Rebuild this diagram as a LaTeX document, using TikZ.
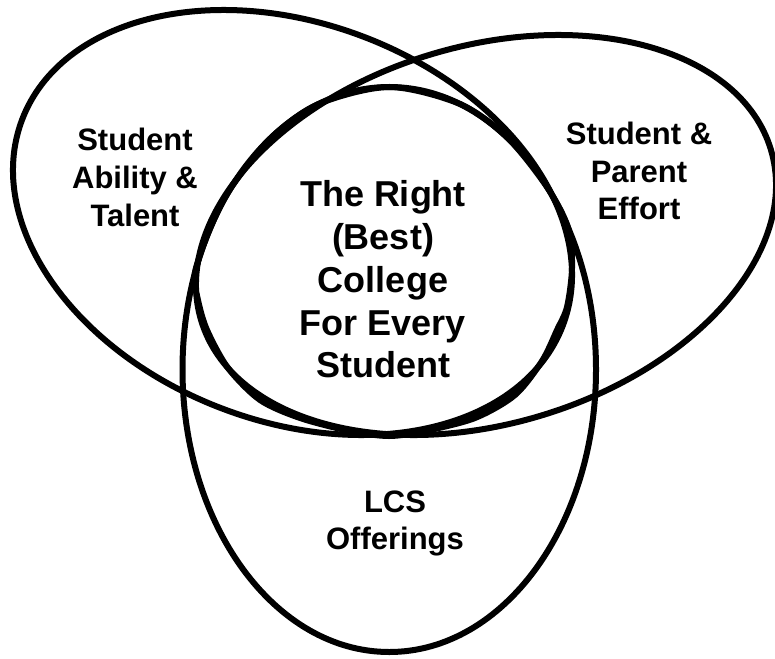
\documentclass[tikz,border=0pt]{standalone}
\usepackage{fontspec}
\setmainfont{Liberation Sans}
\begin{document}
\begin{tikzpicture}[x=1pt,y=-1pt,
  ring/.style={draw=black,line width=6pt},
  lbl/.style={align=center,inner sep=0pt,font=\fontsize{31}{38}\selectfont\bfseries}]
\useasboundingbox (0,0) rectangle (775,658);
% left ellipse
\draw[ring,rotate around={-20.84:(292.5,222.5)}] (292.5,222.5) ellipse [x radius=289.3, y radius=198.9];
% right ellipse
\draw[ring,rotate around={16.67:(486,235)}] (486,235) ellipse [x radius=297.4, y radius=188.8];
% bottom ellipse
\draw[ring] (389.25,369.5) ellipse [x radius=206.75, y radius=282.5];
% central shape
\draw[ring] plot[smooth cycle] coordinates {
 (389.25,87) (460,104) (507.8,138.1) (547.6,187.9) (568.3,228.3) (572,268)
 (567,307) (557,330) (542,361) (515,395) (475,418) (425,431) (389,436)
 (350,431) (300,418) (260,400) (228,368) (207,330) (198,300) (194.9,272.9)
 (210.2,228.3) (230.9,187.9) (270.7,138.1) (318.5,104)};
\node[lbl] (ability) at (135,177) {Student\\Ability \&\\Talent};
\node[lbl,font=\fontsize{31}{37.5}\selectfont\bfseries] (effort) at (639,171) {Student \&\\Parent\\Effort};
\node[lbl,font=\fontsize{36}{42.75}\selectfont\bfseries] (college) at (383,279.5) {The Right\\(Best)\\College\\For Every\\Student};
\node[lbl,font=\fontsize{31}{37}\selectfont\bfseries] (lcs) at (395,523.7) {LCS\\Offerings};
\end{tikzpicture}
\end{document}
